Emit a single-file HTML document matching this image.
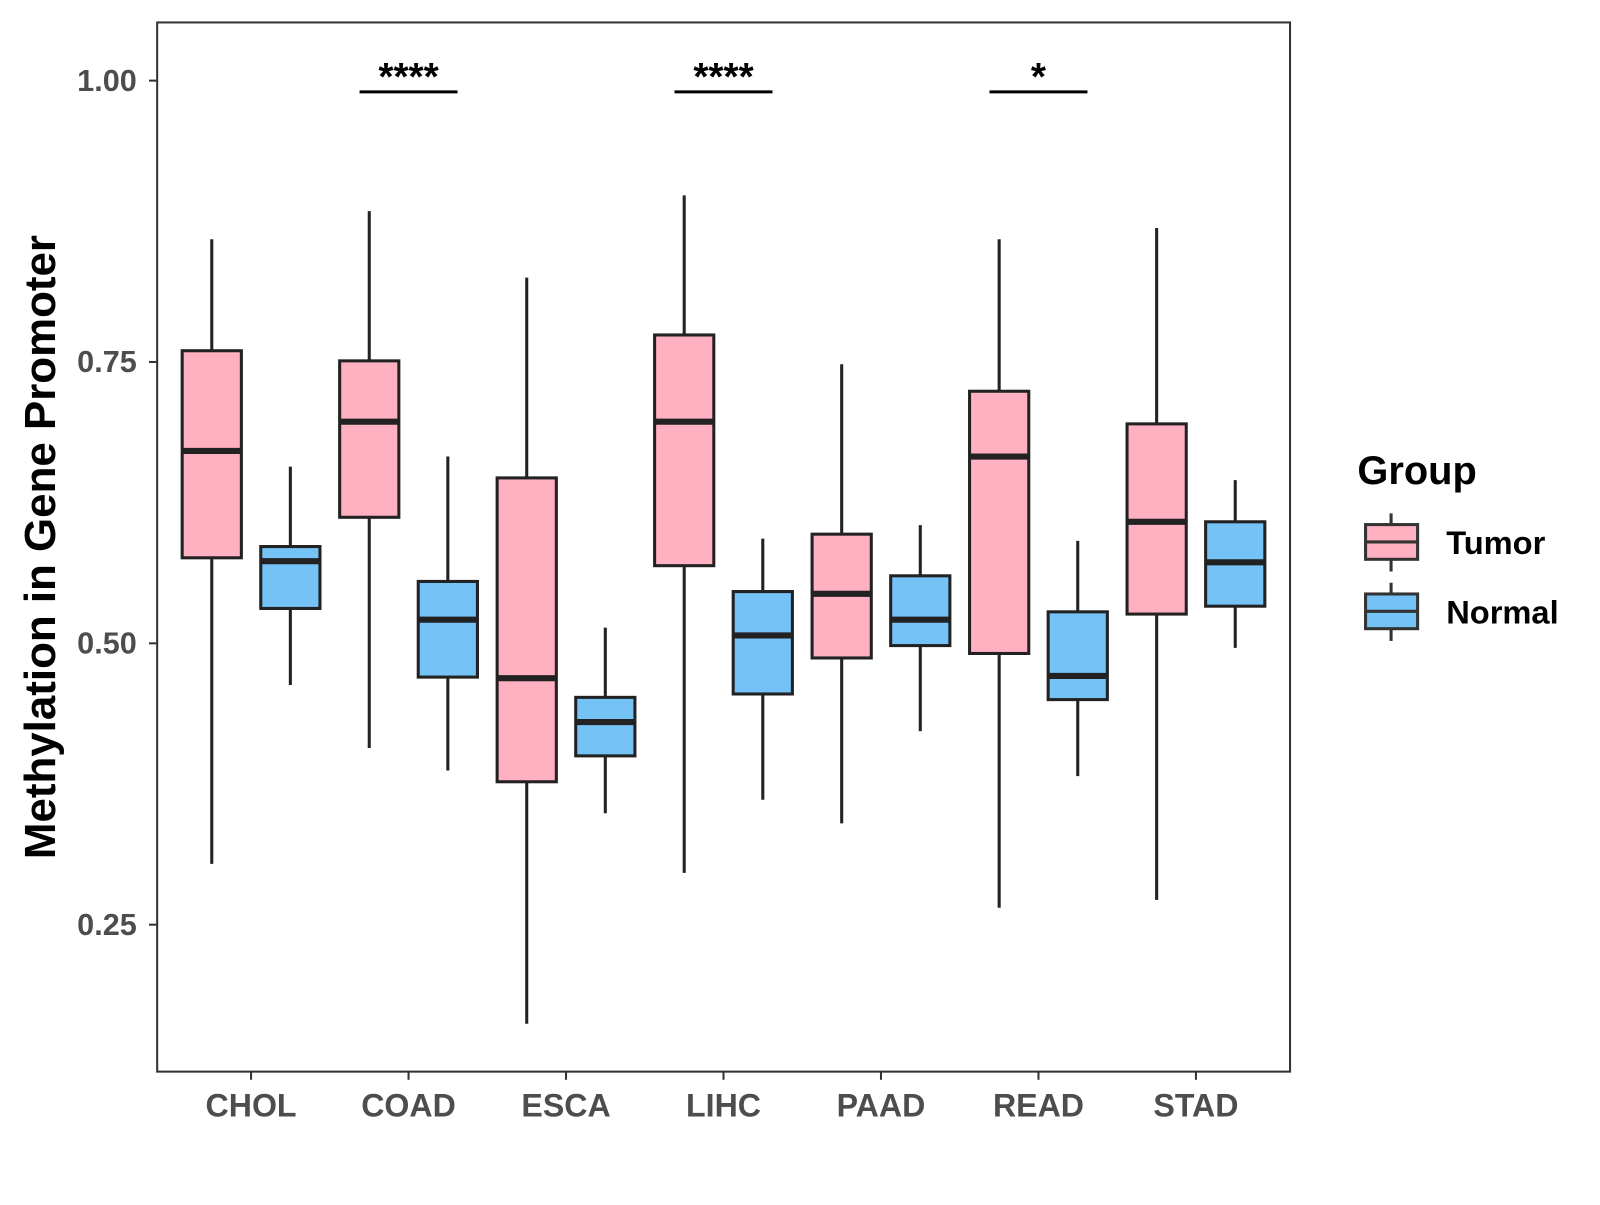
<!DOCTYPE html>
<html><head><meta charset="utf-8"><style>
body{margin:0;background:#fff;width:1600px;height:1200px;overflow:hidden}
svg text{font-family:"Liberation Sans",Arial,sans-serif;font-weight:bold}
</style></head><body>
<svg id="chart" width="1600" height="1200">
<g transform="scale(1.0206)">
<rect x="154" y="22" width="1110" height="1028" fill="#fff" stroke="#333" stroke-width="2"/>
<g id="marks"></g>
<text transform="translate(54,536) rotate(-90)" text-anchor="middle" font-size="43" fill="#000">Methylation in Gene Promoter</text>
<g>
<text x="1330" y="474" font-size="39" fill="#000">Group</text>
<g>
<line x1="1363" y1="503" x2="1363" y2="560" stroke="#333" stroke-width="3"/>
<rect x="1338" y="514" width="51" height="34" fill="#FFB0C1" stroke="#333" stroke-width="3"/>
<line x1="1338" y1="531" x2="1389" y2="531" stroke="#333" stroke-width="3"/>
<text x="1417" y="543" font-size="32" fill="#000">Tumor</text></g>
<g>
<line x1="1363" y1="571" x2="1363" y2="628" stroke="#333" stroke-width="3"/>
<rect x="1338" y="582" width="51" height="34" fill="#75C2F6" stroke="#333" stroke-width="3"/>
<line x1="1338" y1="599" x2="1389" y2="599" stroke="#333" stroke-width="3"/>
<text x="1417" y="611" font-size="32" fill="#000">Normal</text></g>
</g>
</g>
</svg>
<script>
const categories=["CHOL","COAD","ESCA","LIHC","PAAD","READ","STAD"];
// [lowWhisker, q1, median, q3, highWhisker]
const tumorStats=[[0.304,0.576,0.671,0.760,0.859],[0.407,0.612,0.697,0.751,0.884],[0.162,0.377,0.469,0.647,0.825],[0.296,0.569,0.697,0.774,0.898],[0.340,0.487,0.544,0.597,0.748],[0.265,0.491,0.666,0.724,0.859],[0.272,0.526,0.608,0.695,0.869]];
const normalStats=[[0.463,0.531,0.573,0.586,0.657],[0.387,0.470,0.521,0.555,0.666],[0.349,0.400,0.430,0.452,0.514],[0.361,0.455,0.507,0.546,0.593],[0.422,0.498,0.521,0.560,0.605],[0.382,0.450,0.471,0.528,0.591],[0.496,0.533,0.572,0.608,0.645]];
const yTicks=[0.25,0.50,0.75,1.00];
const yTickLabels=["0.25","0.50","0.75","1.00"];
const sigCategories=["COAD","LIHC","READ"];
const sigLabels=["****","****","*"];
const sigLevel=0.99;

const NS="http://www.w3.org/2000/svg";
const y=v=>79+(1-v)*1102.7;
const x=i=>246+i*154.3;
const g=document.getElementById('marks');
function mk(tag,attrs,parent){const e=document.createElementNS(NS,tag);for(const k in attrs)e.setAttribute(k,attrs[k]);(parent||g).appendChild(e);return e;}
yTicks.forEach((t,i)=>{
  const l=mk('line',{x1:146,x2:154,y1:y(t),y2:y(t),stroke:'#333','stroke-width':2});
  
  
  const tx=mk('text',{x:134,y:y(t)+10,'text-anchor':'end','font-size':30,fill:'#4d4d4d'});
  tx.textContent=yTickLabels[i];
  
  
});
function box(s,cx,fill,name){
  const gg=mk('g',{});
  
  
  mk('line',{x1:cx,x2:cx,y1:y(s[0]),y2:y(s[4]),stroke:'#222','stroke-width':3},gg);
  mk('rect',{x:cx-29,y:y(s[3]),width:58,height:y(s[1])-y(s[3]),fill:fill,stroke:'#222','stroke-width':3},gg);
  mk('line',{x1:cx-29,x2:cx+29,y1:y(s[2]),y2:y(s[2]),stroke:'#222','stroke-width':6},gg);
}
categories.forEach((c,i)=>{
  box(tumorStats[i],x(i)-38.5,'#FFB0C1','box-tumor-'+c.toLowerCase());
  box(normalStats[i],x(i)+38.5,'#75C2F6','box-normal-'+c.toLowerCase());
  const l=mk('line',{x1:x(i),x2:x(i),y1:1050,y2:1058,stroke:'#333','stroke-width':2});
  
  
  const tx=mk('text',{x:x(i),y:1094,'text-anchor':'middle','font-size':31.5,fill:'#4d4d4d'});
  tx.textContent=c;
  
  
});
sigCategories.forEach((c,k)=>{
  const i=categories.indexOf(c);
  const l=mk('line',{x1:x(i)-48,x2:x(i)+48,y1:y(sigLevel),y2:y(sigLevel),stroke:'#000','stroke-width':3});
  
  
  const tx=mk('text',{x:x(i),y:y(sigLevel)-2,'text-anchor':'middle','font-size':38,fill:'#000'});
  tx.textContent=sigLabels[k];
  
  
});
</script>
</body></html>
